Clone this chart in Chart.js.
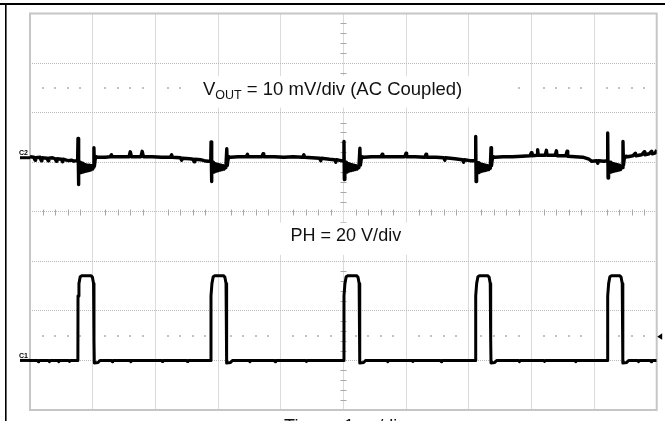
<!DOCTYPE html>
<html>
<head>
<meta charset="utf-8">
<title>VOUT ripple and PH switching node</title>
<script src="https://cdn.jsdelivr.net/npm/chart.js@4.4.0/dist/chart.umd.min.js"></script>
<style>
  html, body { margin: 0; padding: 0; background: #fff; }
</style>
</head>
<body>
<canvas id="scope" width="665" height="421"></canvas>
<script>
// Screen: 10 horizontal divisions (1 us/div), 8 vertical divisions (-4..4)
const timeDivs = [0, 10];
const vertDivs = [-4, 4];

// Channel settings
const voutScale = 10;     // mV per div
const voutGround = 1.09;  // C2 marker position, divisions from centre
const phScale = 20;       // V per div
const phGround = -3;      // C1 marker position
const triggerLevel = 10;  // V on PH
const dotRows = [2.5, -2.5];

// VOUT trace: [time us, mV]
const voutSamples = [
  [0.00, 0.2], [0.06, 0.1], [0.08, -0.5], [0.09, 0.0], [0.16, 0.1], [0.18, -0.6], [0.19, 0.0], [0.27, -0.1],
  [0.29, -0.6], [0.30, -0.1], [0.36, 0.0], [0.40, -0.2], [0.42, -0.7], [0.43, -0.2], [0.50, -0.3], [0.52, -0.8],
  [0.53, -0.3], [0.58, -0.5], [0.62, -0.6], [0.66, -0.5], [0.70, -0.7], [0.74, -0.6], [0.760, -0.6],
  [0.766, 3.9], [0.772, -5.4], [0.780, -1.2], [0.790, -2.9], [0.803, -0.9], [0.816, -3.0],
  [0.830, -1.1], [0.843, -2.9], [0.857, -1.3], [0.871, -2.8], [0.886, -1.4], [0.901, -2.7], [0.917, -1.5],
  [0.933, -2.6], [0.950, -1.5], [0.966, -2.5], [0.982, -1.6], [0.998, -2.3], [1.010, -1.9], [1.020, 2.0],
  [1.028, -1.7], [1.040, -0.3], [1.060, 0.2],
  [1.08, 0.1], [1.20, 0.1], [1.28, 0.2], [1.30, 0.6], [1.31, 0.2], [1.45, 0.2], [1.58, 0.2], [1.60, 1.2],
  [1.62, 0.2], [1.77, 0.2], [1.79, 1.3], [1.81, 0.2], [1.95, 0.2], [2.10, 0.1], [2.24, 0.1], [2.26, 0.6],
  [2.27, 0.1], [2.40, 0.0], [2.42, -0.5], [2.43, -0.1], [2.55, -0.2], [2.60, -0.3], [2.62, -0.8], [2.63, -0.3],
  [2.72, -0.4], [2.78, -0.6], [2.84, -0.7], [2.884, -0.7],
  [2.889, 3.2], [2.895, -4.8], [2.903, -1.0], [2.913, -2.8], [2.926, -0.9], [2.940, -2.9], [2.954, -1.2],
  [2.968, -2.7], [2.983, -1.3], [2.999, -2.6], [3.015, -1.4], [3.031, -2.5], [3.047, -1.5], [3.063, -2.4],
  [3.079, -1.6], [3.095, -2.3], [3.110, -1.8], [3.125, -2.0], [3.140, 1.8], [3.148, -1.6], [3.160, -0.3],
  [3.18, 0.2],
  [3.20, 0.1], [3.32, 0.2], [3.45, 0.2], [3.47, 0.7], [3.48, 0.2], [3.62, 0.2], [3.70, 0.2], [3.72, 0.8],
  [3.73, 0.2], [3.90, 0.2], [4.05, 0.1], [4.20, 0.2], [4.35, 0.1], [4.37, 0.6], [4.38, 0.1], [4.50, 0.0],
  [4.62, -0.1], [4.64, -0.6], [4.65, -0.1], [4.78, -0.3], [4.86, -0.4], [4.88, -0.9], [4.89, -0.4],
  [4.96, -0.6], [5.005, -0.6],
  [5.010, 3.3], [5.016, -4.4], [5.024, -1.0], [5.035, -2.7], [5.048, -0.9], [5.062, -2.9], [5.076, -1.2],
  [5.090, -2.7], [5.105, -1.3], [5.120, -2.6], [5.136, -1.4], [5.152, -2.5], [5.168, -1.5], [5.184, -2.4],
  [5.200, -1.6], [5.216, -2.3], [5.232, -1.8], [5.248, -2.0], [5.264, 1.9], [5.272, -1.5], [5.285, -0.3],
  [5.31, 0.2],
  [5.33, 0.1], [5.45, 0.2], [5.60, 0.2], [5.62, 0.7], [5.63, 0.2], [5.80, 0.2], [5.98, 0.2], [6.00, 0.9],
  [6.01, 0.2], [6.15, 0.2], [6.30, 0.1], [6.32, 0.7], [6.33, 0.1], [6.48, 0.1], [6.60, 0.0], [6.62, -0.5],
  [6.63, 0.0], [6.78, -0.2], [6.90, -0.4], [6.92, -0.9], [6.93, -0.4], [7.02, -0.6], [7.105, -0.6],
  [7.112, 4.3], [7.118, -4.8], [7.126, -1.1], [7.137, -2.9], [7.150, -1.0], [7.164, -3.0], [7.178, -1.2],
  [7.192, -2.8], [7.207, -1.3], [7.222, -2.7], [7.238, -1.4], [7.254, -2.6], [7.270, -1.5], [7.286, -2.5],
  [7.302, -1.6], [7.318, -2.4], [7.334, -1.8], [7.345, -2.1], [7.356, 2.0], [7.364, -1.6], [7.376, -0.3],
  [7.40, 0.2],
  [7.42, 0.1], [7.55, 0.2], [7.70, 0.2], [7.85, 0.3], [7.98, 0.4], [8.00, 1.0], [8.01, 0.4], [8.09, 0.5],
  [8.10, 1.6], [8.11, 0.5], [8.22, 0.5], [8.24, 1.5], [8.25, 0.5], [8.38, 0.5], [8.40, 1.4], [8.41, 0.4],
  [8.55, 0.4], [8.57, 1.3], [8.58, 0.3], [8.70, 0.2], [8.82, 0.1], [8.92, -0.3], [8.96, -0.7], [9.04, -0.6],
  [9.06, -1.1], [9.07, -0.6], [9.16, -0.7], [9.212, -0.6],
  [9.218, 5.0], [9.224, -4.1], [9.232, -1.0], [9.243, -2.8], [9.256, -0.9], [9.270, -2.9], [9.284, -1.1],
  [9.298, -2.8], [9.313, -1.2], [9.328, -2.7], [9.344, -1.3], [9.360, -2.6], [9.376, -1.4], [9.392, -2.5],
  [9.408, -1.5], [9.424, -2.4], [9.440, -1.7], [9.452, -2.0], [9.462, 3.3], [9.470, -1.5], [9.482, -0.2],
  [9.51, 0.3],
  [9.54, 0.2], [9.62, 0.4], [9.66, 0.9], [9.67, 0.4], [9.76, 0.6], [9.80, 1.2], [9.81, 0.6], [9.88, 0.8],
  [9.92, 1.3], [9.93, 0.8], [9.98, 1.0], [10.0, 1.6]
];

// PH (switch node) trace: [time us, V]
const phSamples = [
  [0.00, 0], [0.12, 0], [0.13, -0.5], [0.14, 0], [0.30, 0], [0.31, -0.5], [0.32, 0], [0.45, 0], [0.46, -0.5],
  [0.47, 0], [0.62, 0], [0.63, -0.4], [0.64, 0], [0.764, 0],
  [0.766, 26], [0.781, 31], [0.801, 33.8], [0.826, 34.2], [0.976, 34.2], [0.996, 33.6], [1.014, 31], [1.021, 8],
  [1.026, -1.0], [1.086, -0.8], [1.116, 0],
  [1.30, 0], [1.31, -0.5], [1.32, 0], [1.60, 0], [1.61, -0.5], [1.62, 0], [2.10, 0], [2.11, -0.4], [2.12, 0],
  [2.50, 0], [2.51, -0.4], [2.52, 0], [2.886, 0],
  [2.888, 26], [2.903, 31], [2.923, 33.8], [2.948, 34.2], [3.090, 34.2], [3.110, 33.6], [3.128, 31], [3.135, 8],
  [3.140, -1.0], [3.200, -0.8], [3.230, 0],
  [3.50, 0], [3.51, -0.5], [3.52, 0], [3.90, 0], [3.91, -0.5], [3.92, 0], [4.40, 0], [4.41, -0.4], [4.42, 0],
  [5.008, 0],
  [5.010, 26], [5.025, 31], [5.045, 33.8], [5.070, 34.2], [5.214, 34.2], [5.234, 33.6], [5.252, 31], [5.259, 8],
  [5.264, -1.0], [5.324, -0.8], [5.354, 0],
  [5.70, 0], [5.71, -0.5], [5.72, 0], [6.10, 0], [6.11, -0.4], [6.12, 0], [6.55, 0], [6.56, -0.5], [6.57, 0],
  [7.110, 0],
  [7.112, 26], [7.127, 31], [7.147, 33.8], [7.172, 34.2], [7.306, 34.2], [7.326, 33.6], [7.344, 31], [7.351, 8],
  [7.356, -1.0], [7.416, -0.8], [7.446, 0],
  [7.80, 0], [7.81, -0.5], [7.82, 0], [8.20, 0], [8.21, -0.4], [8.22, 0], [8.70, 0], [8.71, -0.5], [8.72, 0],
  [9.216, 0],
  [9.218, 26], [9.233, 31], [9.253, 33.8], [9.278, 34.2], [9.412, 34.2], [9.432, 33.6], [9.450, 31], [9.457, 8],
  [9.462, -1.0], [9.522, -0.8], [9.552, 0],
  [9.70, 0], [9.71, -0.5], [9.72, 0], [9.90, 0], [9.91, -0.5], [9.92, 0], [10.0, 0]
];

// Build chart points in screen divisions
const voutPoints = voutSamples.map(([t, mv]) => ({ x: t, y: voutGround + mv / voutScale }));
const phPoints = phSamples.map(([t, v]) => ({ x: t, y: phGround + v / phScale }));

const FONT = '"Liberation Sans", Arial, sans-serif';

// white boxes behind the on-screen labels, in divisions [x0, x1, yTop, yBottom]
const labelBoxes = [[2.49, 7.69, 2.74, 2.1], [3.9, 6.2, -0.22, -0.87]];

// Graticule extras: frame, centre-axis ticks, dotted rows, label boxes
const graticule = {
  id: 'graticule',
  beforeDatasetsDraw(chart) {
    const { ctx, chartArea: a, scales: { x, y } } = chart;
    ctx.save();

    // dotted rows
    ctx.fillStyle = '#c2c2c2';
    dotRows.forEach(r => {
      const py = Math.round(y.getPixelForValue(r));
      for (let k = 1; k < 50; k++) {
        if (k % 5 === 0) continue;
        const px = Math.round(x.getPixelForValue(k / 5));
        ctx.fillRect(px - 1, py - 1, 2, 2);
      }
    });

    // centre axis ticks
    ctx.strokeStyle = '#a8a8a8';
    ctx.lineWidth = 1;
    const cy = Math.round(y.getPixelForValue(0)) + 0.5;
    const cx = Math.round(x.getPixelForValue(5)) + 0.5;
    ctx.beginPath();
    for (let k = 1; k < 50; k++) {
      if (k % 5 === 0) continue;
      const px = Math.round(x.getPixelForValue(k / 5)) + 0.5;
      ctx.moveTo(px, cy - 3); ctx.lineTo(px, cy + 3);
    }
    for (let k = -19; k < 20; k++) {
      if (k % 5 === 0) continue;
      const py = Math.round(y.getPixelForValue(k / 5)) + 0.5;
      ctx.moveTo(cx - 3, py); ctx.lineTo(cx + 3, py);
    }
    ctx.stroke();

    // frame
    ctx.strokeStyle = '#c6c6c6';
    ctx.lineWidth = 2;
    ctx.strokeRect(a.left, a.top, a.right - a.left, a.bottom - a.top);

    // white boxes behind the labels
    ctx.fillStyle = '#fff';
    labelBoxes.forEach(([x0, x1, y0, y1]) => {
      const px0 = x.getPixelForValue(x0), py0 = y.getPixelForValue(y0);
      ctx.fillRect(px0, py0, x.getPixelForValue(x1) - px0, y.getPixelForValue(y1) - py0);
    });
    ctx.restore();
  },
  afterDatasetsDraw(chart) {
    const { ctx, chartArea: a, scales: { x, y } } = chart;
    ctx.save();
    ctx.fillStyle = '#111';
    ctx.textBaseline = 'alphabetic';

    // VOUT label with subscript
    let lx = x.getPixelForValue(2.76);
    const ly = y.getPixelForValue(2.35);
    ctx.textAlign = 'left';
    ctx.font = '18.5px ' + FONT;
    ctx.fillText('V', lx, ly);
    lx += ctx.measureText('V').width;
    ctx.font = '12.5px ' + FONT;
    ctx.fillText('OUT', lx, ly + 4);
    lx += ctx.measureText('OUT').width;
    ctx.font = '18.5px ' + FONT;
    ctx.fillText(' = 10 mV/div (AC Coupled)', lx, ly);

    // PH label
    ctx.font = '18px ' + FONT;
    ctx.textAlign = 'center';
    ctx.fillText('PH = 20 V/div', x.getPixelForValue(5.04), y.getPixelForValue(-0.585));

    // Time base label (below the screen, partly cut off)
    ctx.fillText('Time = 1 \u00b5s/div', x.getPixelForValue(5.03), a.bottom + 22);

    // Channel ground markers
    ctx.textAlign = 'left';
    ctx.font = 'bold 7px ' + FONT;
    [['C2', voutGround], ['C1', phGround]].forEach(([name, lvl]) => {
      const py = y.getPixelForValue(lvl);
      ctx.fillStyle = '#000';
      ctx.fillRect(a.left - 10, py - 1.5, 10, 3);
      ctx.fillText(name, a.left - 11, py - 2.5);
    });

    // Trigger level arrow on the right edge
    const ty = y.getPixelForValue(phGround + triggerLevel / phScale);
    ctx.beginPath();
    ctx.moveTo(a.right + 0.5, ty + 1);
    ctx.lineTo(a.right + 5.5, ty - 2.5);
    ctx.lineTo(a.right + 5.5, ty + 4);
    ctx.closePath();
    ctx.fill();

    // Outer black frame (top and left)
    ctx.fillRect(0, 3, chart.width, 2);
    ctx.fillRect(5, 3, 1.6, chart.height);
    ctx.restore();
  }
};

const ctx = document.getElementById('scope').getContext('2d');
const scopeChart = new Chart(ctx, {
  type: 'line',
  data: {
    datasets: [
      {
        label: 'VOUT',
        data: voutPoints,
        borderColor: '#000',
        borderWidth: 3.4,
        borderJoinStyle: 'round',
        pointRadius: 0,
        tension: 0,
        fill: false
      },
      {
        label: 'PH',
        data: phPoints,
        borderColor: '#000',
        borderWidth: 3,
        borderJoinStyle: 'round',
        pointRadius: 0,
        tension: 0,
        fill: false
      }
    ]
  },
  options: {
    responsive: false,
    animation: false,
    devicePixelRatio: 1,
    layout: { padding: { left: 30, top: 13.5, right: 8.3, bottom: 11 } },
    plugins: { legend: { display: false }, tooltip: { enabled: false } },
    scales: {
      x: {
        type: 'linear',
        min: timeDivs[0],
        max: timeDivs[1],
        afterFit: s => { s.height = 0; },
        ticks: { display: false, stepSize: 1 },
        grid: { color: '#b8b8b8', lineWidth: 1, drawTicks: false },
        border: { display: false, dash: [1, 1] }
      },
      y: {
        type: 'linear',
        min: vertDivs[0],
        max: vertDivs[1],
        afterFit: s => { s.width = 0; },
        ticks: { display: false, stepSize: 1 },
        grid: { color: '#b8b8b8', lineWidth: 1, drawTicks: false },
        border: { display: false, dash: [1, 1] }
      }
    }
  },
  plugins: [graticule]
});
</script>
</body>
</html>
